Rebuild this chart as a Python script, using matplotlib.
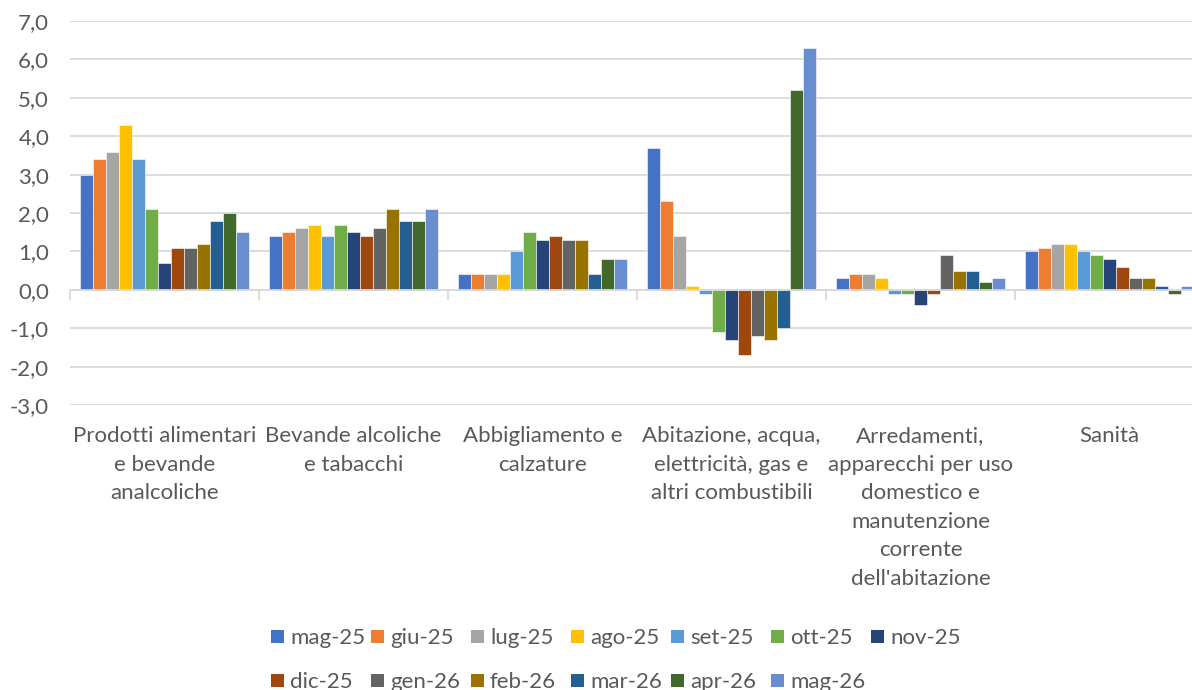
import matplotlib
matplotlib.use("Agg")
import matplotlib.pyplot as plt
import matplotlib.transforms as mtransforms
from matplotlib.patches import Rectangle
import numpy as np

plt.rcParams['font.family'] = ['Lato', 'DejaVu Sans']

categories = [
    "Prodotti alimentari\ne bevande\nanalcoliche",
    "Bevande alcoliche\ne tabacchi",
    "Abbigliamento e\ncalzature",
    "Abitazione, acqua,\nelettricità, gas e\naltri combustibili",
    "Arredamenti,\napparecchi per uso\ndomestico e\nmanutenzione\ncorrente\ndell'abitazione",
    "Sanità",
]

months = ["mag-25", "giu-25", "lug-25", "ago-25", "set-25", "ott-25", "nov-25",
          "dic-25", "gen-26", "feb-26", "mar-26", "apr-26", "mag-26"]

colors = ["#4472C4", "#ED7D31", "#A5A5A5", "#FFC000", "#5B9BD5", "#70AD47", "#264478",
          "#9E480E", "#636363", "#997300", "#255E91", "#43682B", "#698ED0"]

# one list per category, one value per month
alimentari = [3.0, 3.4, 3.6, 4.3, 3.4, 2.1, 0.7, 1.1, 1.1, 1.2, 1.8, 2.0, 1.5]
alcoliche = [1.4, 1.5, 1.6, 1.7, 1.4, 1.7, 1.5, 1.4, 1.6, 2.1, 1.8, 1.8, 2.1]
abbigliamento = [0.4, 0.4, 0.4, 0.4, 1.0, 1.5, 1.3, 1.4, 1.3, 1.3, 0.4, 0.8, 0.8]
abitazione = [3.7, 2.3, 1.4, 0.1, -0.1, -1.1, -1.3, -1.7, -1.2, -1.3, -1.0, 5.2, 6.3]
arredamenti = [0.3, 0.4, 0.4, 0.3, -0.1, -0.1, -0.4, -0.1, 0.9, 0.5, 0.5, 0.2, 0.3]
sanita = [1.0, 1.1, 1.2, 1.2, 1.0, 0.9, 0.8, 0.6, 0.3, 0.3, 0.1, -0.1, 0.1]

data = np.array([alimentari, alcoliche, abbigliamento, abitazione, arredamenti, sanita])

text_col = "#595959"
grid_col = "#D9D9D9"
fs = 16

W, H = 1192, 690
fig = plt.figure(figsize=(W / 100, H / 100), dpi=100)
ax = fig.add_axes([70 / W, 1 - 405 / H, 1134 / W, 384 / H])

n = len(months)
bw = 13 / 189
x = np.arange(len(categories))
for i in range(n):
    ax.bar(x - n * bw / 2 + (i + 0.5) * bw, data[:, i], width=bw, color=colors[i],
           edgecolor="white", linewidth=0.4, label=months[i], zorder=3)

ax.set_xlim(-0.5, len(categories) - 0.5)
ax.set_ylim(-3, 7)
ax.set_yticks(np.arange(-3, 8, 1))
ax.set_yticklabels([f"{v:.1f}".replace(".", ",") for v in np.arange(-3, 8, 1)],
                   fontsize=fs, color=text_col)
ax.yaxis.grid(True, color=grid_col, linewidth=1.3, zorder=0)
ax.tick_params(axis='y', length=0, pad=15)

for s in ["top", "right", "left"]:
    ax.spines[s].set_visible(False)
ax.spines["bottom"].set_position(("data", 0))
ax.spines["bottom"].set_color(grid_col)
ax.spines["bottom"].set_linewidth(1.3)
ax.spines["bottom"].set_zorder(4)

ax.set_xticks(np.arange(-0.5, len(categories), 1))
ax.set_xticklabels([])
ax.tick_params(axis='x', length=7, width=1.3, color=grid_col, direction='out')

trans = mtransforms.blended_transform_factory(ax.transData, ax.transAxes)
for xi, lab in zip(x, categories):
    ax.text(xi, -0.055, lab, transform=trans, ha="center", va="top",
            fontsize=fs, color=text_col, linespacing=1.53)

# legend: two rows of equal-width entries, like Excel
rows = [range(0, 7), range(7, 13)]
row_y = [636, 680]
for r, idxs in enumerate(rows):
    for k, i in enumerate(idxs):
        x0 = 271 + k * 100
        fig.patches.append(Rectangle((x0 / W, 1 - (row_y[r] + 7) / H), 13 / W, 13 / H,
                                     transform=fig.transFigure, facecolor=colors[i],
                                     edgecolor="none"))
        fig.text((x0 + 19) / W, 1 - row_y[r] / H, months[i], fontsize=fs,
                 color=text_col, va="center_baseline", ha="left")

fig.savefig("out.png", dpi=100)
